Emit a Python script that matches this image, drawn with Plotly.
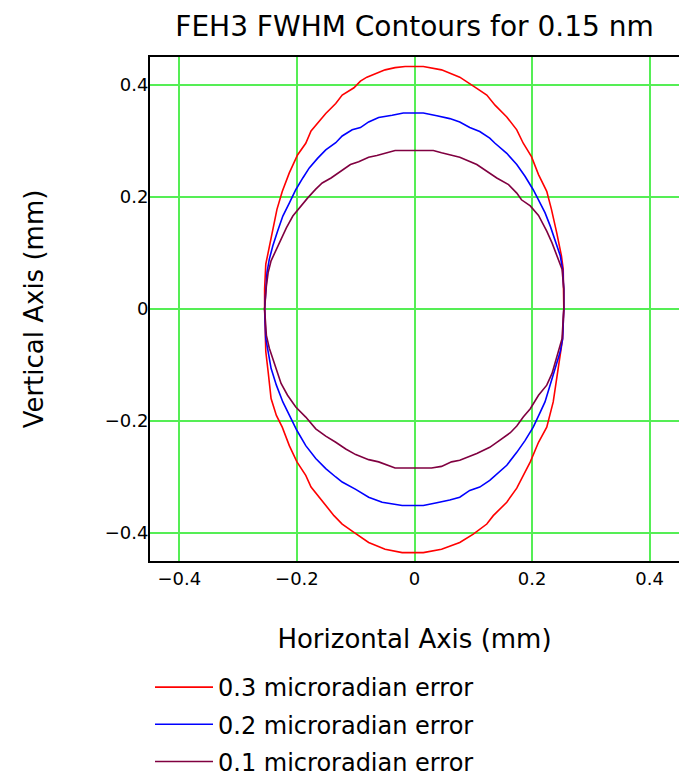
import plotly.graph_objects as go

# ---- data (mm) ----
labels = ["0.3 microradian error", "0.2 microradian error", "0.1 microradian error"]
colors = ["#ff0000", "#0000ff", "#800040"]

red_x = [0, 0.015, 0.046, 0.077, 0.106, 0.123, 0.137, 0.157, 0.174, 0.185, 0.199, 0.211, 0.225, 0.233, 0.242, 0.250, 0.253, 0.254, 0.254,
         0.252, 0.248, 0.242, 0.236, 0.225, 0.211, 0.197, 0.185, 0.174, 0.157, 0.134, 0.123, 0.100, 0.077, 0.046, 0.015, 0,
         -0.021, -0.050, -0.078, -0.103, -0.123, -0.137, -0.151, -0.176, -0.185, -0.200, -0.213, -0.225, -0.235, -0.244, -0.249, -0.253, -0.255,
         -0.255, -0.253, -0.249, -0.244, -0.234, -0.225, -0.213, -0.199, -0.185, -0.176, -0.165, -0.151, -0.134, -0.123, -0.103, -0.092, -0.081, -0.066, -0.050, -0.033, -0.016, 0]
red_y = [0.433, 0.433, 0.427, 0.414, 0.394, 0.382, 0.364, 0.343, 0.320, 0.296, 0.272, 0.240, 0.210, 0.178, 0.136, 0.095, 0.071, 0.036, 0,
         -0.053, -0.082, -0.130, -0.166, -0.211, -0.238, -0.273, -0.297, -0.320, -0.345, -0.369, -0.384, -0.402, -0.417, -0.429, -0.435, -0.435,
         -0.435, -0.429, -0.417, -0.399, -0.384, -0.369, -0.351, -0.318, -0.297, -0.273, -0.244, -0.211, -0.190, -0.160, -0.112, -0.076, 0,
         0.036, 0.080, 0.101, 0.130, 0.178, 0.210, 0.243, 0.275, 0.296, 0.318, 0.332, 0.349, 0.367, 0.382, 0.395, 0.407, 0.414, 0.420, 0.427, 0.431, 0.433, 0.433]

blue_x = [0, 0.015, 0.038, 0.060, 0.077, 0.094, 0.111, 0.128, 0.137, 0.157, 0.174, 0.188, 0.202, 0.214, 0.222, 0.231, 0.239, 0.248, 0.252, 0.254, 0.254,
          0.252, 0.248, 0.239, 0.231, 0.222, 0.214, 0.202, 0.188, 0.174, 0.157, 0.140, 0.128, 0.111, 0.094, 0.077, 0.060, 0.038, 0.015, 0,
          -0.021, -0.055, -0.078, -0.100, -0.123, -0.134, -0.151, -0.168, -0.185, -0.200, -0.213, -0.224, -0.235, -0.244, -0.249, -0.253, -0.255,
          -0.253, -0.251, -0.247, -0.241, -0.233, -0.224, -0.213, -0.202, -0.190, -0.179, -0.165, -0.151, -0.134, -0.123, -0.106, -0.092, -0.078, -0.061, -0.038, -0.019, 0]
blue_y = [0.350, 0.350, 0.345, 0.340, 0.334, 0.324, 0.317, 0.305, 0.296, 0.278, 0.258, 0.237, 0.213, 0.189, 0.172, 0.148, 0.124, 0.095, 0.071, 0.036, 0,
          -0.053, -0.076, -0.106, -0.136, -0.166, -0.184, -0.211, -0.235, -0.256, -0.279, -0.294, -0.306, -0.318, -0.324, -0.336, -0.341, -0.346, -0.351, -0.351,
          -0.351, -0.345, -0.336, -0.322, -0.309, -0.300, -0.285, -0.267, -0.244, -0.217, -0.190, -0.166, -0.136, -0.106, -0.076, -0.053, 0,
          0.036, 0.065, 0.089, 0.113, 0.139, 0.166, 0.189, 0.213, 0.234, 0.252, 0.269, 0.284, 0.297, 0.309, 0.320, 0.324, 0.334, 0.342, 0.346, 0.350, 0.350]

purple_x = [0, 0.032, 0.046, 0.063, 0.077, 0.106, 0.128, 0.140, 0.160, 0.174, 0.182, 0.197, 0.211, 0.225, 0.234, 0.242, 0.251, 0.254, 0.254,
            0.251, 0.242, 0.234, 0.225, 0.211, 0.197, 0.185, 0.174, 0.163, 0.140, 0.128, 0.106, 0.077, 0.063, 0.046, 0.029, 0,
            -0.033, -0.061, -0.078, -0.100, -0.117, -0.134, -0.151, -0.168, -0.185, -0.202, -0.216, -0.227, -0.238, -0.247, -0.252, -0.255,
            -0.252, -0.249, -0.244, -0.235, -0.227, -0.218, -0.207, -0.196, -0.182, -0.168, -0.157, -0.142, -0.126, -0.109, -0.095, -0.078, -0.064, -0.047, -0.033, 0]
purple_y = [0.283, 0.283, 0.279, 0.274, 0.271, 0.258, 0.243, 0.234, 0.222, 0.207, 0.195, 0.184, 0.167, 0.139, 0.118, 0.095, 0.071, 0.036, 0,
            -0.053, -0.088, -0.115, -0.136, -0.154, -0.178, -0.193, -0.209, -0.221, -0.238, -0.247, -0.258, -0.270, -0.273, -0.281, -0.284, -0.284,
            -0.284, -0.273, -0.269, -0.260, -0.250, -0.238, -0.227, -0.214, -0.193, -0.175, -0.154, -0.133, -0.100, -0.070, -0.047, 0,
            0.041, 0.065, 0.086, 0.107, 0.127, 0.145, 0.166, 0.181, 0.198, 0.214, 0.225, 0.234, 0.246, 0.258, 0.263, 0.271, 0.274, 0.279, 0.283, 0.283]

tick_vals = [-0.4, -0.2, 0, 0.2, 0.4]
tick_text = ["\u22120.4", "\u22120.2", "0", "0.2", "0.4"]

FONT = "DejaVu Sans"
W, H = 679, 771  # page body adds an 8px offset on left/top

fig = go.Figure()
for i, (xs, ys) in enumerate([(red_x, red_y), (blue_x, blue_y), (purple_x, purple_y)]):
    fig.add_trace(go.Scatter(x=xs, y=ys, mode="lines", name=labels[i],
                             legendgroup=str(i),
                             line=dict(color=colors[i], width=1.6)))

axis_common = dict(
    tickvals=tick_vals, ticktext=tick_text, range=[-0.45, 0.45],
    showgrid=True, gridcolor="#55ee55", gridwidth=1.5, zeroline=False,
    showline=True, linecolor="black", linewidth=2, mirror=True,
    ticks="", tickfont=dict(family=FONT, size=18, color="black"),
    automargin=False,
)
fig.update_xaxes(**axis_common, title=dict(text="Horizontal Axis (mm)", standoff=42,
                                            font=dict(family=FONT, size=26, color="black")))
fig.update_yaxes(**axis_common, ticklabelstandoff=-4,
                 title=dict(text="Vertical Axis (mm)", standoff=54,
                            font=dict(family=FONT, size=26, color="black")))

fig.update_layout(
    width=W, height=H,
    margin=dict(l=142, r=8, t=49, b=218),
    paper_bgcolor="white", plot_bgcolor="white",
    title=dict(text="FEH3 FWHM Contours for 0.15 nm", x=0.5, xref="paper",
               y=1 - 18 / H, yref="container", yanchor="middle",
               font=dict(family=FONT, size=28, color="black")),
    legend=dict(orientation="v", x=0.0, xanchor="left",
                y=1 - 657 / H, yref="container", yanchor="top",
                font=dict(family=FONT, size=24, color="black"),
                itemwidth=58, tracegroupgap=3, bgcolor="rgba(0,0,0,0)"),
    showlegend=True,
)

fig.write_html("out.html")
